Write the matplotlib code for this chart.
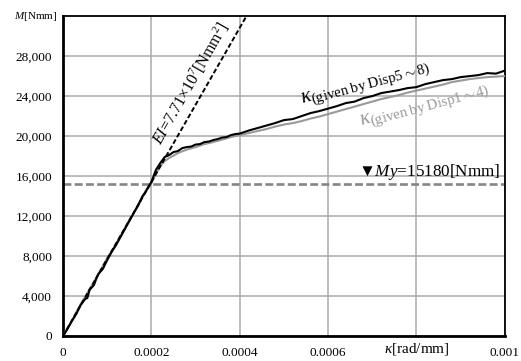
import matplotlib
matplotlib.use("Agg")
import matplotlib.pyplot as plt
import numpy as np

plt.rcParams['font.family'] = ['Liberation Serif', 'DejaVu Sans']
plt.rcParams['mathtext.fontset'] = 'custom'
plt.rcParams['mathtext.rm'] = 'Liberation Serif'
plt.rcParams['mathtext.it'] = 'Liberation Serif:italic'

# curvature (x 1e-4 rad/mm) and moment (Nmm)
kappa_5_8 = [0, 0.1, 0.2, 0.3, 0.4, 0.5, 0.55, 0.6, 0.7, 0.75, 0.8, 0.9, 1.0, 1.1,
             1.2, 1.3, 1.4, 1.5, 1.6, 1.7, 1.8, 1.85, 1.9, 2.0, 2.05, 2.1, 2.2, 2.3,
             2.4, 2.5, 2.6, 2.7, 2.8, 2.9, 3.0, 3.1, 3.2, 3.3, 3.4, 3.5, 3.6, 3.7,
             3.8, 3.9, 4.0, 4.2, 4.4, 4.6, 4.8, 5.0, 5.2, 5.4, 5.6, 5.8, 6.0, 6.2,
             6.4, 6.6, 6.8, 7.0, 7.2, 7.4, 7.6, 7.8, 8.0, 8.2, 8.4, 8.6, 8.8, 9.0,
             9.2, 9.4, 9.6, 9.8, 10.0]
moment_5_8 = [0, 700, 1500, 2200, 3100, 3700, 3800, 4600, 5100, 5700, 6200, 6700,
              7600, 8400, 9100, 9900, 10700, 11500, 12300, 13100, 14000, 14300,
              14700, 15400, 16000, 16600, 17300, 17900, 18100, 18400, 18500, 18800,
              18900, 18950, 19150, 19200, 19400, 19450, 19600, 19700, 19850, 19900,
              20100, 20200, 20250, 20550, 20800, 21050, 21300, 21600, 21700, 22000,
              22300, 22500, 22750, 23000, 23300, 23450, 23800, 24000, 24300, 24450,
              24600, 24800, 24900, 25200, 25400, 25600, 25700, 25900, 26000, 26100,
              26300, 26250, 26550]

kappa_1_4 = [0, 0.1, 0.2, 0.3, 0.4, 0.5, 0.6, 0.7, 0.8, 0.9, 1.0, 1.1, 1.2, 1.3,
             1.4, 1.5, 1.6, 1.7, 1.8, 1.9, 2.0, 2.1, 2.2, 2.3, 2.4, 2.6, 2.8, 3.0,
             3.2, 3.4, 3.6, 3.8, 4.0, 4.2, 4.4, 4.6, 4.8, 5.0, 5.2, 5.4, 5.6, 5.8,
             6.0, 6.2, 6.4, 6.6, 6.8, 7.0, 7.2, 7.4, 7.6, 7.8, 8.0, 8.2, 8.4, 8.6,
             8.8, 9.0, 9.2, 9.4, 9.6, 9.8, 10.0]
moment_1_4 = [0, 800, 1500, 2400, 3200, 3900, 4700, 5400, 6200, 7000, 7800, 8500,
              9200, 10000, 10800, 11600, 12300, 13000, 13900, 14600, 15300, 16200,
              17000, 17500, 17800, 18300, 18650, 18900, 19200, 19400, 19650, 19900,
              20100, 20300, 20500, 20700, 20950, 21150, 21300, 21500, 21750, 21950,
              22200, 22450, 22700, 22950, 23200, 23450, 23700, 23900, 24100, 24350,
              24550, 24750, 24950, 25150, 25400, 25550, 25700, 25800, 25900, 25950,
              26000]

EI = 7.71e7
My = 15180

x_ticks = [0, 0.0002, 0.0004, 0.0006, 0.0008, 0.001]
x_labels = ['0', '0.0002', '0.0004', '0.0006', '', '0.001']
y_ticks = [0, 4000, 8000, 12000, 16000, 20000, 24000, 28000]

fig = plt.figure(figsize=(5.21, 3.61), dpi=100)
ax = fig.add_axes([0.121, 0.0693, 0.848, 0.886])

ax.grid(True, color='#b0b0b0', linewidth=1.2, zorder=0)
ax.set_axisbelow(True)

k1 = np.array(kappa_1_4) * 1e-4
k2 = np.array(kappa_5_8) * 1e-4
ax.plot(k1, moment_1_4, color='#999999', linewidth=1.5, zorder=3)
ax.plot(k2, moment_5_8, color='black', linewidth=1.5, zorder=4)

# elastic stiffness line and yield moment
k_el = np.array([0, 32000 / EI])
ax.plot(k_el, EI * k_el, color='black', linestyle=(0, (2.5, 1.3)), linewidth=1.4, zorder=5)
ax.axhline(My, color='#858585', linestyle=(0, (3, 1.25)), linewidth=1.9, zorder=2)

ax.set_xlim(0, 0.001)
ax.set_ylim(0, 32000)
ax.set_xticks(x_ticks)
ax.set_xticklabels(x_labels)
ax.set_yticks(y_ticks)
ax.set_yticklabels([f'{v:,}' for v in y_ticks])
ax.tick_params(length=0, labelsize=9.5, pad=8)

for side in ['top', 'right']:
    ax.spines[side].set_linewidth(1.3)
for side in ['left', 'bottom']:
    ax.spines[side].set_linewidth(2)

ax.text(0.0008, -0.042, r'$\mathit{κ}$[rad/mm]', transform=ax.get_xaxis_transform(),
        ha='center', va='center', fontsize=11)
ax.text(-0.012, 1.0, r'$M$[Nmm]', transform=ax.transAxes, ha='right', va='center', fontsize=8)

ax.text(0.000224, 19000, r'$EI$=7.71×10$^7$[Nmm$^2$]', rotation=60.3,
        rotation_mode='anchor', ha='left', va='baseline', fontsize=11.5)
ax.text(0.00099, 16010, r'▼$My$=15180[Nmm]', ha='right', va='baseline', fontsize=12.3)
ax.text(0.00054, 23300, r'$\mathit{κ}_{\mathrm{(given\ by\ Disp5}{\sim}\mathrm{8)}}$',
        rotation=15, rotation_mode='anchor', ha='left', va='baseline', fontsize=15)
ax.text(0.000674, 21100, r'$\mathit{κ}_{\mathrm{(given\ by\ Disp1}{\sim}\mathrm{4)}}$',
        rotation=15, rotation_mode='anchor', ha='left', va='baseline', fontsize=15,
        color='#999999')

fig.savefig('out.png', dpi=100)
